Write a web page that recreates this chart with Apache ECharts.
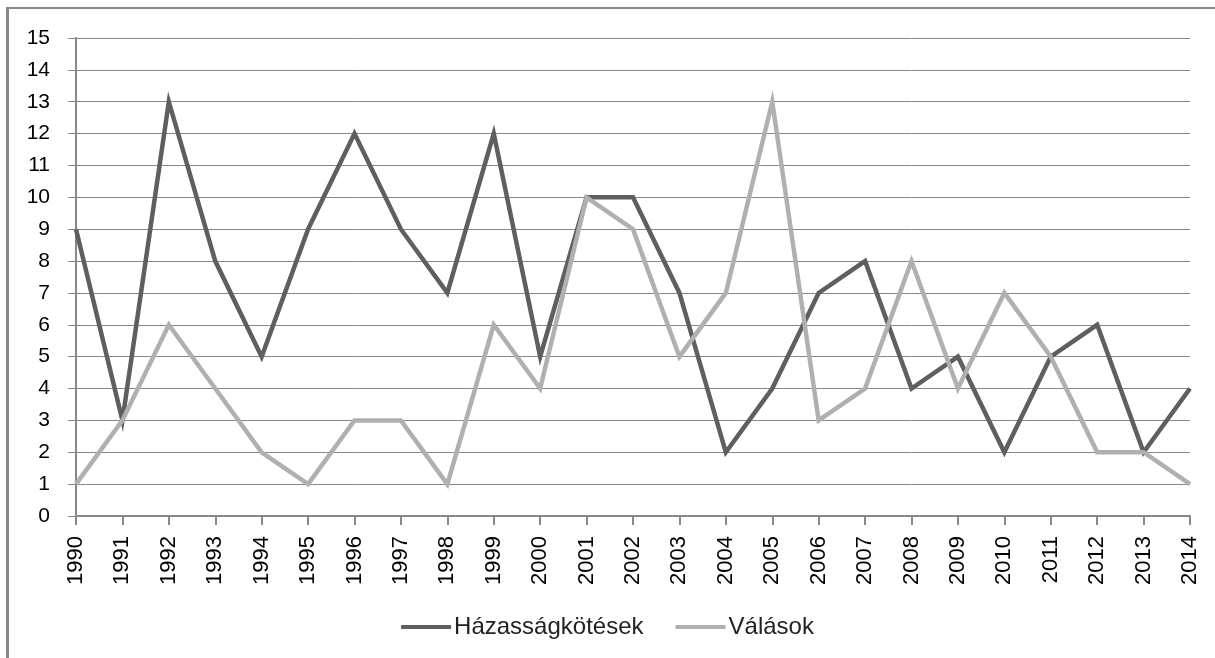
<!DOCTYPE html>
<html>
<head>
<meta charset="utf-8">
<title>Házasságkötések és válások</title>
<script src="https://cdn.jsdelivr.net/npm/echarts@6/dist/echarts.min.js"></script>
<style>
  html, body { margin: 0; padding: 0; background: #fff; }
  #chart { width: 1215px; height: 658px; }
</style>
</head>
<body>
<div id="chart"></div>
<script>
var years = ['1990','1991','1992','1993','1994','1995','1996','1997','1998','1999','2000','2001','2002',
             '2003','2004','2005','2006','2007','2008','2009','2010','2011','2012','2013','2014'];
var hazassag = [9, 3, 13, 8, 5, 9, 12, 9, 7, 12, 5, 10, 10, 7, 2, 4, 7, 8, 4, 5, 2, 5, 6, 2, 4];
var valasok = [1, 3, 6, 4, 2, 1, 3, 3, 1, 6, 4, 10, 9, 5, 7, 13, 3, 4, 8, 4, 7, 5, 2, 2, 1];
var seriesNames = ['Házasságkötések', 'Válások'];
var titleText = 'A házasságkötések és a válások száma Szegeden, 1990 – 2014 (db)';

var myChart = echarts.init(document.getElementById('chart'));
myChart.setOption({
    backgroundColor: '#fff',
    animation: false,
    graphic: [
        // title sits above the top edge, only its descenders show
        {
            type: 'text', silent: true, x: 1020, y: -13,
            style: {
                text: titleText,
                font: 'bold 29px "Liberation Serif"',
                fill: '#000',
                align: 'right',
                verticalAlign: 'middle'
            }
        },
        { type: 'line', silent: true, shape: { x1: 7, y1: 8, x2: 1215, y2: 8 }, style: { stroke: '#888', lineWidth: 2 } },
        { type: 'line', silent: true, shape: { x1: 7.5, y1: 7, x2: 7.5, y2: 658 }, style: { stroke: '#888', lineWidth: 3 } }
    ],
    legend: {
        data: seriesNames,
        bottom: 14,
        left: 'center',
        icon: 'rect',
        itemWidth: 50,
        itemHeight: 4,
        itemGap: 32,
        textStyle: {
            fontFamily: 'Liberation Sans',
            fontSize: 24,
            color: '#222',
            padding: [0, 0, 0, -2]
        }
    },
    grid: {
        left: 76,
        right: 25,
        top: 38,
        bottom: 142,
        containLabel: false
    },
    xAxis: {
        type: 'category',
        boundaryGap: false,
        data: years,
        axisLine: { lineStyle: { color: '#888', width: 2 } },
        axisTick: { show: true, length: 9, alignWithLabel: true, lineStyle: { color: '#888', width: 2 } },
        axisLabel: {
            rotate: 90,
            margin: 20,
            interval: 0,
            fontFamily: 'Liberation Sans',
            fontSize: 22,
            color: '#000'
        }
    },
    yAxis: {
        type: 'value',
        min: 0,
        max: 15,
        interval: 1,
        axisLine: { show: true, lineStyle: { color: '#888', width: 2 } },
        axisTick: { show: true, length: 8, lineStyle: { color: '#888', width: 1 } },
        splitLine: { lineStyle: { color: '#888', width: 1 } },
        axisLabel: {
            margin: 26,
            fontFamily: 'Liberation Sans',
            fontSize: 21,
            color: '#000'
        }
    },
    series: [
        {
            name: seriesNames[0],
            type: 'line',
            data: hazassag,
            showSymbol: false,
            symbol: 'none',
            color: '#5f5f5f',
            lineStyle: { color: '#5f5f5f', width: 4.5, join: 'miter' }
        },
        {
            name: seriesNames[1],
            type: 'line',
            data: valasok,
            showSymbol: false,
            symbol: 'none',
            color: '#b0b0b0',
            lineStyle: { color: '#b0b0b0', width: 4.5, join: 'miter' }
        }
    ]
});
</script>
</body>
</html>
